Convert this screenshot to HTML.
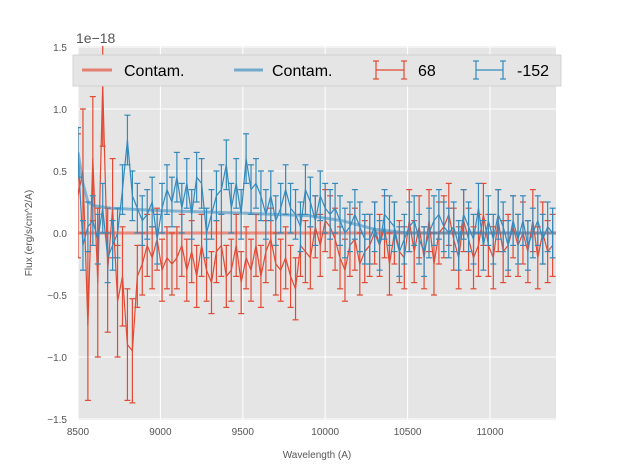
<!DOCTYPE html>
<html><head><meta charset="utf-8"><style>
body{margin:0;background:#fff;}
svg{display:block;font-family:"Liberation Sans","DejaVu Sans",sans-serif;}
</style></head><body>
<svg id="chart" width="617" height="467" viewBox="0 0 617 467" xmlns="http://www.w3.org/2000/svg">
<defs><clipPath id="clip"><rect x="78" y="46" width="478" height="374"/></clipPath></defs>
<rect x="78" y="46" width="478" height="374" fill="#e5e5e5"/>
<g id="grid"></g>
<g id="series" clip-path="url(#clip)"></g>
<g id="axes"></g>
<text x="76" y="43" font-size="14" fill="#555">1e−18</text>
<text x="317" y="458" font-size="10" fill="#555" text-anchor="middle">Wavelength (A)</text>
<text transform="translate(32,233) rotate(-90)" font-size="10" fill="#555" text-anchor="middle">Flux (erg/s/cm^2/A)</text>
<g>
<rect x="73" y="55" width="488" height="31" fill="#e5e5e5" stroke="#ccc" stroke-width="0.8"/>
<g><line x1="82" y1="70" x2="112" y2="70" stroke="#e24a33" stroke-opacity="0.65" stroke-width="3"/><text x="124" y="76" font-size="16">Contam.</text></g>
<g><line x1="234" y1="70" x2="263" y2="70" stroke="#348abd" stroke-opacity="0.65" stroke-width="3"/><text x="272" y="76" font-size="16">Contam.</text></g>
<g stroke="#e24a33" stroke-width="1.2"><line x1="376" y1="70" x2="404" y2="70"/><line x1="376" y1="61" x2="376" y2="79"/><line x1="404" y1="61" x2="404" y2="79"/><line x1="373" y1="61" x2="379" y2="61"/><line x1="373" y1="79" x2="379" y2="79"/><line x1="401" y1="61" x2="407" y2="61"/><line x1="401" y1="79" x2="407" y2="79"/><text x="418" y="76" font-size="16" stroke="none" fill="#000">68</text></g>
<g stroke="#348abd" stroke-width="1.2"><line x1="476" y1="70" x2="503" y2="70"/><line x1="476" y1="61" x2="476" y2="79"/><line x1="503" y1="61" x2="503" y2="79"/><line x1="473" y1="61" x2="479" y2="61"/><line x1="473" y1="79" x2="479" y2="79"/><line x1="500" y1="61" x2="506" y2="61"/><line x1="500" y1="79" x2="506" y2="79"/><text x="517" y="76" font-size="16" stroke="none" fill="#000">-152</text></g>
</g>
</svg>
<script>
const xTicks=[8500,9000,9500,10000,10500,11000];
const xTickLabels=["8500","9000","9500","10000","10500","11000"];
const yTicks=[-1.5,-1.0,-0.5,0.0,0.5,1.0,1.5];
const yTickLabels=["−1.5","−1.0","−0.5","0.0","0.5","1.0","1.5"];
const waveStart=8500, waveStep=30;
const red=[0.3,0.5,-0.75,0.6,-0.4,1.2,-0.3,0.2,-0.55,-0.35,
-0.9,-0.95,-0.35,-0.25,-0.1,-0.2,-0.05,-0.3,-0.2,-0.25,
-0.2,-0.1,-0.3,-0.15,-0.35,-0.1,-0.3,-0.4,-0.15,-0.1,
-0.35,-0.3,-0.1,-0.4,-0.2,-0.3,-0.1,-0.35,-0.15,-0.05,
-0.25,-0.3,-0.2,-0.35,-0.45,-0.1,-0.15,-0.2,0.05,-0.1,
0.1,0.05,-0.05,-0.2,-0.3,-0.1,-0.05,-0.25,-0.15,-0.1,
0.0,-0.1,0.05,-0.25,0.0,-0.15,-0.2,0.1,-0.15,0.05,
-0.2,0.1,-0.25,0.0,0.05,0.15,-0.05,-0.2,0.1,-0.05,
-0.2,-0.1,0.15,-0.1,-0.2,0.1,-0.15,-0.1,0.05,-0.1,
0.0,-0.15,0.1,-0.2,0.0,-0.15,-0.1];
const blue=[0.65,-0.1,0.05,0.1,-0.05,0.2,-0.2,-0.1,0.0,0.35,
0.75,0.3,0.2,0.1,0.15,0.25,-0.05,0.2,0.35,0.25,
0.45,0.2,0.4,0.15,0.45,0.4,0.0,0.15,0.3,0.35,
0.55,0.2,0.4,0.15,0.6,0.35,0.4,0.3,0.15,0.3,
0.1,0.2,0.35,0.2,0.15,0.05,0.35,0.25,0.1,0.3,
0.2,0.15,0.2,0.1,0.0,0.05,0.15,0.05,-0.05,-0.05,
0.05,-0.1,0.15,0.1,0.05,-0.15,-0.05,0.05,0.1,-0.05,
-0.15,0.0,0.1,0.15,0.05,0.0,0.05,-0.1,0.15,0.05,
-0.05,0.2,-0.1,0.1,-0.05,0.15,0.05,-0.1,0.1,-0.05,
0.1,-0.1,0.0,0.1,-0.05,0.05,0.0];
const redErrEarly=[0.5,0.5,0.6,0.5,0.6,0.5,0.5,0.4,0.45,0.4,0.45,0.42];
const redErrDefault=0.25;
const blueErr=0.2;
const contamBlueX=[8500,8530,8560,8600,8700,9000,9500,9900,10100,10300,10500,11400];
const contamBlueY=[0.65,0.4,0.25,0.22,0.2,0.18,0.16,0.14,0.1,0.03,0.0,0.0];
const contamRedY=0.0;

const NS="http://www.w3.org/2000/svg";
const X=v=>78+(v-8500)*(412/2500);
const Y=v=>233-v*124;
function mk(tag,attrs,parent){const e=document.createElementNS(NS,tag);for(const k in attrs)e.setAttribute(k,attrs[k]);parent.appendChild(e);return e;}
const grid=document.getElementById('grid'),axes=document.getElementById('axes'),ser=document.getElementById('series');
xTicks.forEach((t,i)=>{
 const g=mk('line',{x1:X(t),x2:X(t),y1:46,y2:420,stroke:'#fff','stroke-width':1},grid);
 
 
 const tx=mk('text',{x:X(t),y:435,'font-size':10,fill:'#555','text-anchor':'middle'},axes);tx.textContent=xTickLabels[i];
 
 
});
yTicks.forEach((t,i)=>{
 const g=mk('line',{x1:78,x2:556,y1:Y(t),y2:Y(t),stroke:'#fff','stroke-width':1},grid);
 
 
 const tx=mk('text',{x:67,y:Y(t)+4,'font-size':10,fill:'#555','text-anchor':'end'},axes);tx.textContent=yTickLabels[i];
 
 
});
function drawSeries(vals,errOf,color,name){
 const g=mk('g',{stroke:color,'stroke-width':1.2,fill:'none'},ser);
 
 
 let pts=[];
 vals.forEach((v,i)=>{const w=waveStart+i*waveStep;const x=X(w),e=errOf(i);
  pts.push(x.toFixed(1)+','+Y(v).toFixed(1));
  mk('line',{x1:x,x2:x,y1:Y(v+e),y2:Y(v-e)},g);
  mk('line',{x1:x-3,x2:x+3,y1:Y(v+e),y2:Y(v+e)},g);
  mk('line',{x1:x-3,x2:x+3,y1:Y(v-e),y2:Y(v-e)},g);
 });
 mk('polyline',{points:pts.join(' ')},g);
}
const cr=mk('line',{x1:78,x2:556,y1:Y(contamRedY),y2:Y(contamRedY),stroke:'#e24a33','stroke-opacity':0.6,'stroke-width':3},ser);


drawSeries(red,i=>i<redErrEarly.length?redErrEarly[i]:redErrDefault,'#e24a33','series-68');
drawSeries(blue,i=>blueErr,'#348abd','series-minus152');
const cb=mk('polyline',{points:contamBlueX.map((w,i)=>X(w)+','+Y(contamBlueY[i])).join(' '),stroke:'#348abd','stroke-opacity':0.55,'stroke-width':3,fill:'none'},ser);


</script>
</body></html>
